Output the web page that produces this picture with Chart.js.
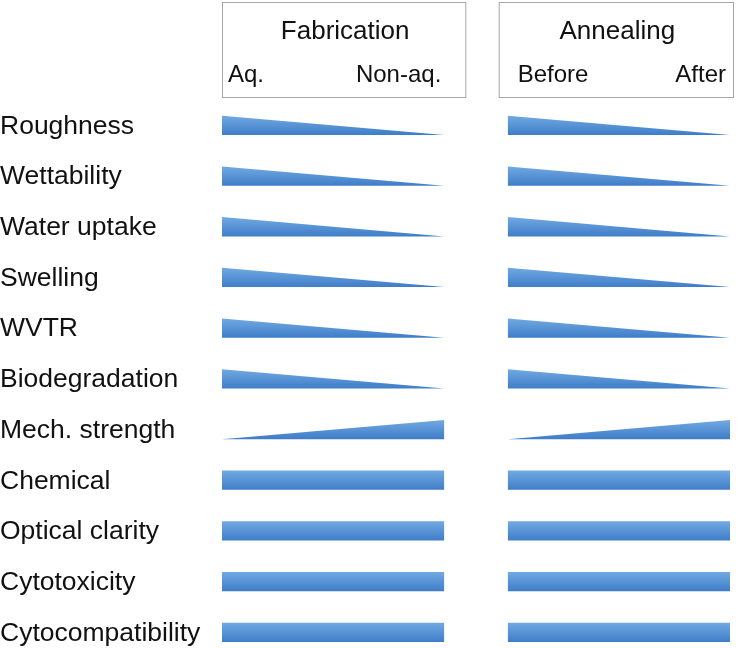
<!DOCTYPE html>
<html>
<head>
<meta charset="utf-8">
<script src="https://cdn.jsdelivr.net/npm/chart.js@4/dist/chart.umd.min.js"></script>
<style>
  html, body { margin: 0; padding: 0; background: #fff; }
  #wrap { position: relative; width: 742px; height: 648px; }
</style>
</head>
<body>
<div id="wrap"><canvas id="chart"></canvas></div>
<script>
// rows of the figure
const properties = [
  "Roughness", "Wettability", "Water uptake", "Swelling", "WVTR",
  "Biodegradation", "Mech. strength", "Chemical", "Optical clarity",
  "Cytotoxicity", "Cytocompatibility",
];

// relative level at the start / end of each column (1 = full, 0 = none)
const fabricationStart = [1, 1, 1, 1, 1, 1, 0, 1, 1, 1, 1];
const fabricationEnd   = [0, 0, 0, 0, 0, 0, 1, 1, 1, 1, 1];
const annealingStart   = [1, 1, 1, 1, 1, 1, 0, 1, 1, 1, 1];
const annealingEnd     = [0, 0, 0, 0, 0, 0, 1, 1, 1, 1, 1];

// column headers
const groups = ["Fabrication", "Annealing"];
const groupFrom = ["Aq.", "Before"];
const groupTo = ["Non-aq.", "After"];

const HALF = 0.19; // half bar thickness in row units
const GAP = 0.285; // space between the two columns
const FONT = "26.5px 'Liberation Sans', Arial, sans-serif";
const HEADFONT = "26px 'Liberation Sans', Arial, sans-serif";
const SUBFONT = "24px 'Liberation Sans', Arial, sans-serif";

const columns = [
  { x0: 0, x1: 1, start: fabricationStart, end: fabricationEnd },
  { x0: 1 + GAP, x1: 2 + GAP, start: annealingStart, end: annealingEnd },
];

const level = (row, v) => row + HALF - 2 * HALF * v;

const datasets = [];
columns.forEach(col => {
  properties.forEach((p, i) => {
    datasets.push({
      label: p,
      row: i,
      data: [
        { x: col.x0, y: level(i, col.start[i]) },
        { x: col.x1, y: level(i, col.end[i]) },
      ],
      fill: { value: i + HALF },
      borderWidth: 0,
      borderColor: "rgba(0,0,0,0)",
      pointRadius: 0,
      tension: 0,
      backgroundColor: ctx => {
        const chart = ctx.chart;
        const y = chart.scales.y;
        if (!chart.chartArea || !y) return "#5b9bd5";
        const row = chart.data.datasets[ctx.datasetIndex].row;
        const g = chart.ctx.createLinearGradient(0, y.getPixelForValue(row - HALF), 0, y.getPixelForValue(row + HALF));
        g.addColorStop(0, "#71a9e2");
        g.addColorStop(1, "#3f7dc8");
        return g;
      },
    });
  });
});

function drawText(c, text, x, y, align, font) {
  c.save();
  c.font = font || FONT;
  c.textBaseline = "middle";
  c.textAlign = align;
  c.fillText(text, x, y);
  c.restore();
}

const labelsPlugin = {
  id: "labels",
  afterDraw(chart) {
    const c = chart.ctx;
    const xs = chart.scales.x;
    const ys = chart.scales.y;
    c.fillStyle = "#111";

    properties.forEach((p, i) => {
      drawText(c, p, 0, ys.getPixelForValue(i) + 1, "left");
    });

    // header boxes
    const boxes = [
      { l: xs.getPixelForValue(columns[0].x0) + 0.5, r: xs.getPixelForValue(columns[0].x1) + 21.5 },
      { l: xs.getPixelForValue(columns[1].x0) - 8.5, r: xs.getPixelForValue(columns[1].x1) + 3.5 },
    ];
    boxes.forEach((b, g) => {
      c.save();
      c.strokeStyle = "#a6a6a6";
      c.lineWidth = 1;
      c.strokeRect(b.l, 2.5, b.r - b.l, 95);
      c.restore();
      c.fillStyle = "#111";
      drawText(c, groups[g], (b.l + b.r) / 2 + 1, 32, "center", HEADFONT);
      const cl = xs.getPixelForValue(columns[g].x0);
      const cr = xs.getPixelForValue(columns[g].x1);
      drawText(c, groupFrom[g], cl + (g === 0 ? 6 : 10), 75, "left", SUBFONT);
      drawText(c, groupTo[g], cr - (g === 0 ? 3 : 4), 75, "right", SUBFONT);
    });
  },
};

new Chart(document.getElementById("chart"), {
  type: "line",
  data: { datasets },
  options: {
    responsive: true,
    maintainAspectRatio: false,
    animation: false,
    layout: { padding: { left: 222, right: 12, top: 100, bottom: 3 } },
    plugins: {
      legend: { display: false },
      tooltip: { enabled: false },
    },
    scales: {
      x: { type: "linear", min: 0, max: 2 + GAP, display: false },
      y: { type: "linear", min: -0.5, max: 10.25, reverse: true, display: false },
    },
  },
  plugins: [labelsPlugin],
});
</script>
</body>
</html>
